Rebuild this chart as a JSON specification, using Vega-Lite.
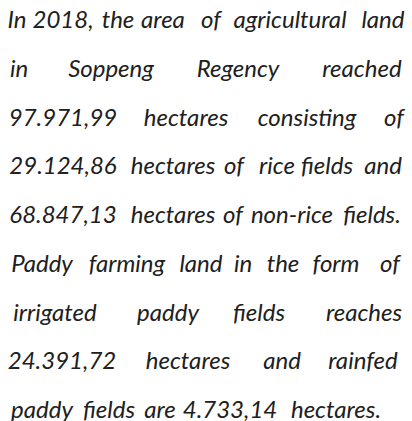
{
  "$schema": "https://vega.github.io/schema/vega-lite/v6.json",
  "width": 412,
  "height": 421,
  "padding": 0,
  "autosize": "none",
  "background": "white",
  "view": {"stroke": null},
  "data": {"values": [
    {"line": 1, "x": 17, "word": "In"},
    {"line": 1, "x": 63, "word": "2018,"},
    {"line": 1, "x": 118, "word": "the"},
    {"line": 1, "x": 163, "word": "area"},
    {"line": 1, "x": 211, "word": "of"},
    {"line": 1, "x": 290, "word": "agricultural"},
    {"line": 1, "x": 383, "word": "land"},
    {"line": 2, "x": 19, "word": "in"},
    {"line": 2, "x": 111, "word": "Soppeng"},
    {"line": 2, "x": 238, "word": "Regency"},
    {"line": 2, "x": 362, "word": "reached"},
    {"line": 3, "x": 63, "word": "97.971,99"},
    {"line": 3, "x": 186, "word": "hectares"},
    {"line": 3, "x": 307, "word": "consisting"},
    {"line": 3, "x": 394, "word": "of"},
    {"line": 4, "x": 63, "word": "29.124,86"},
    {"line": 4, "x": 173, "word": "hectares"},
    {"line": 4, "x": 234, "word": "of"},
    {"line": 4, "x": 277, "word": "rice"},
    {"line": 4, "x": 327, "word": "fields"},
    {"line": 4, "x": 383, "word": "and"},
    {"line": 5, "x": 63, "word": "68.847,13"},
    {"line": 5, "x": 173, "word": "hectares"},
    {"line": 5, "x": 233, "word": "of"},
    {"line": 5, "x": 292, "word": "non-rice"},
    {"line": 5, "x": 372, "word": "fields."},
    {"line": 6, "x": 42, "word": "Paddy"},
    {"line": 6, "x": 127, "word": "farming"},
    {"line": 6, "x": 201, "word": "land"},
    {"line": 6, "x": 243, "word": "in"},
    {"line": 6, "x": 283, "word": "the"},
    {"line": 6, "x": 336, "word": "form"},
    {"line": 6, "x": 390, "word": "of"},
    {"line": 7, "x": 55, "word": "irrigated"},
    {"line": 7, "x": 168, "word": "paddy"},
    {"line": 7, "x": 259, "word": "fields"},
    {"line": 7, "x": 364, "word": "reaches"},
    {"line": 8, "x": 62, "word": "24.391,72"},
    {"line": 8, "x": 188, "word": "hectares"},
    {"line": 8, "x": 282, "word": "and"},
    {"line": 8, "x": 363, "word": "rainfed"},
    {"line": 9, "x": 42, "word": "paddy"},
    {"line": 9, "x": 109, "word": "fields"},
    {"line": 9, "x": 160, "word": "are"},
    {"line": 9, "x": 230, "word": "4.733,14"},
    {"line": 9, "x": 336, "word": "hectares."}
  ]},
  "mark": {"type": "text", "align": "center", "baseline": "alphabetic", "font": "Lato", "fontStyle": "italic", "fontSize": 24, "color": "#202020"},
  "encoding": {
    "x": {"field": "x", "type": "quantitative", "scale": {"domain": [0, 412], "nice": false, "zero": false}, "axis": null},
    "y": {"field": "line", "type": "quantitative", "scale": {"domain": [0.4256, 9.0615], "nice": false, "zero": false, "reverse": true}, "axis": null},
    "text": {"field": "word"}
  }
}
